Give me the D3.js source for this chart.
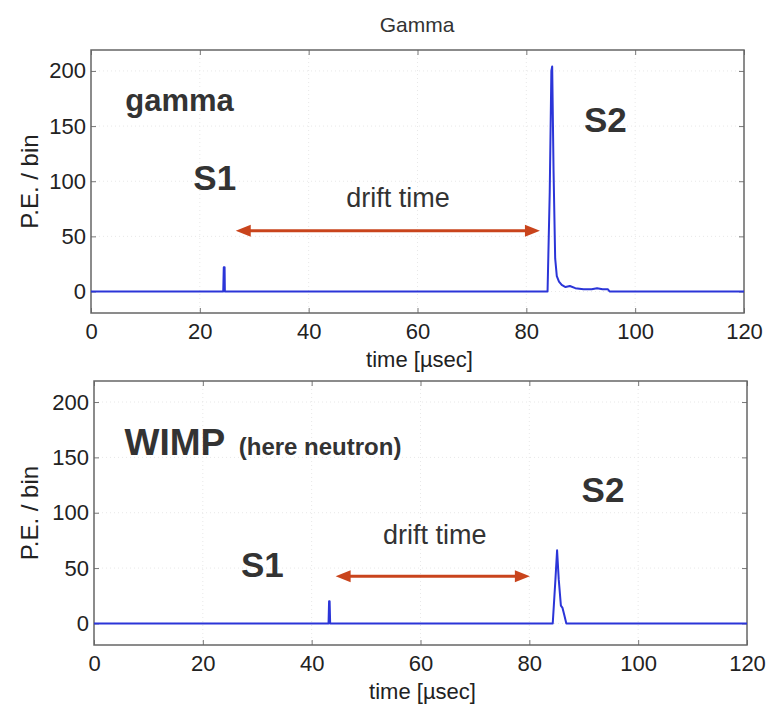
<!DOCTYPE html>
<html lang="en">
<head>
<meta charset="UTF-8">
<script src="https://cdn.jsdelivr.net/npm/d3@7/dist/d3.min.js"></script>
<title>Gamma</title>
<style>
  body { margin: 0; background: #fff; }
  text { font-family: "Liberation Sans", Arial, Helvetica, sans-serif; }
</style>
</head>
<body>
<svg width="766" height="704"></svg>
<script>
  // tick values
  const xTicks = [0, 20, 40, 60, 80, 100, 120];
  const yTicks = [0, 50, 100, 150, 200];

  // gamma event: time (usec) and P.E./bin
  const gammaTime  = [0, 24.3, 24.4, 24.55, 24.6, 83.9, 84.3, 84.6, 84.75, 85.0, 85.3, 85.6, 86.0, 86.5, 87.2, 88.0, 89.0, 90.5, 92.0, 93.0, 94.0, 95.0, 95.3, 120];
  const gammaValue = [0, 0, 22, 22, 0, 0, 90, 200, 204, 110, 30, 14, 9, 6, 4, 5, 3, 2, 2, 3, 2, 2, 0, 0];

  // neutron (WIMP) event
  const wimpTime  = [0, 43.1, 43.2, 43.3, 43.4, 84.3, 84.8, 85.1, 85.4, 85.8, 86.1, 86.4, 86.8, 120];
  const wimpValue = [0, 0, 20, 20, 0, 0, 40, 66, 40, 16, 14, 8, 0, 0];

  const svg = d3.select('svg');
  const lineColor = '#2b35d8';
  const arrowColor = '#c9441c';
  const textColor = '#333';

  // draw one panel
  function panel(cfg) {
    const x = d3.scaleLinear().domain([0, 120]).range([cfg.left, cfg.right]);
    const y = d3.scaleLinear().domain([-19.5, 219]).range([cfg.bottom, cfg.top]);
    const g = svg.append('g');

    // faint dotted grid
    g.append('g').selectAll('line.gx')
      .data(xTicks.slice(1, -1)).enter().append('line')
      .attr('x1', d => x(d)).attr('x2', d => x(d))
      .attr('y1', cfg.top).attr('y2', cfg.bottom)
      .attr('stroke', '#e8e8e8').attr('stroke-dasharray', '1,3');
    g.append('g').selectAll('line.gy')
      .data(yTicks).enter().append('line')
      .attr('x1', cfg.left).attr('x2', cfg.right)
      .attr('y1', d => y(d)).attr('y2', d => y(d))
      .attr('stroke', '#e8e8e8').attr('stroke-dasharray', '1,3');

    // axes with inward ticks
    const ax = g.append('g').attr('transform', `translate(0,${cfg.bottom})`)
      .call(d3.axisBottom(x).tickValues(xTicks).tickSizeInner(-5).tickSizeOuter(0).tickPadding(10));
    const ay = g.append('g').attr('transform', `translate(${cfg.left},0)`)
      .call(d3.axisLeft(y).tickValues(yTicks).tickSizeInner(-5).tickSizeOuter(0).tickPadding(5));
    g.append('g').attr('transform', `translate(0,${cfg.top})`)
      .call(d3.axisTop(x).tickValues(xTicks).tickSizeInner(-5).tickSizeOuter(0).tickFormat(''));
    g.append('g').attr('transform', `translate(${cfg.right},0)`)
      .call(d3.axisRight(y).tickValues(yTicks).tickSizeInner(-5).tickSizeOuter(0).tickFormat(''));
    g.selectAll('.domain').remove();
    g.selectAll('.tick line').attr('stroke', '#777');
    ax.selectAll('text').attr('font-size', 22).attr('fill', '#222')
      .attr('font-family', '"Liberation Sans", Arial, sans-serif');
    ay.selectAll('text').attr('font-size', 22).attr('fill', '#222')
      .attr('font-family', '"Liberation Sans", Arial, sans-serif');

    // box
    g.append('rect')
      .attr('x', cfg.left).attr('y', cfg.top)
      .attr('width', cfg.right - cfg.left).attr('height', cfg.bottom - cfg.top)
      .attr('fill', 'none').attr('stroke', '#666').attr('stroke-width', 1.5);

    // signal trace
    const line = d3.line().x(d => x(d[0])).y(d => y(d[1]));
    g.append('path')
      .attr('d', line(d3.zip(cfg.time, cfg.value)))
      .attr('fill', 'none').attr('stroke', lineColor)
      .attr('stroke-width', 2).attr('stroke-linejoin', 'round');

    // axis labels
    g.append('text')
      .attr('x', (cfg.left + cfg.right) / 2 + 2).attr('y', cfg.bottom + 54)
      .attr('text-anchor', 'middle').attr('font-size', 22).attr('fill', '#222')
      .text('time [µsec]');
    g.append('text')
      .attr('transform', `translate(38,${(cfg.top + cfg.bottom) / 2}) rotate(-90)`)
      .attr('text-anchor', 'middle').attr('font-size', 24).attr('fill', '#222')
      .text('P.E. / bin');

    // double arrow for the drift time
    const a = cfg.arrow;
    const ya = y(a.y), x1 = x(a.from), x2 = x(a.to);
    g.append('line')
      .attr('x1', x1 + 10).attr('x2', x2 - 10).attr('y1', ya).attr('y2', ya)
      .attr('stroke', arrowColor).attr('stroke-width', 3);
    g.append('path')
      .attr('d', `M${x1},${ya}L${x1 + 15},${ya - 6}L${x1 + 15},${ya + 6}Z`)
      .attr('fill', arrowColor);
    g.append('path')
      .attr('d', `M${x2},${ya}L${x2 - 15},${ya - 6}L${x2 - 15},${ya + 6}Z`)
      .attr('fill', arrowColor);

    // annotations
    cfg.notes.forEach(n => {
      g.append('text')
        .attr('x', x(n.t)).attr('y', y(n.v))
        .attr('text-anchor', n.anchor || 'start')
        .attr('font-size', n.size).attr('font-weight', n.bold ? 'bold' : 'normal')
        .attr('fill', textColor)
        .text(n.text);
    });
    return g;
  }

  // title
  svg.append('text')
    .attr('x', 417).attr('y', 32)
    .attr('text-anchor', 'middle').attr('font-size', 21).attr('fill', '#333')
    .text('Gamma');

  panel({
    left: 91, right: 744, top: 50, bottom: 313,
    time: gammaTime, value: gammaValue,
    arrow: { from: 26.6, to: 82.5, y: 55 },
    notes: [
      { text: 'gamma', t: 6.3, v: 164, size: 31, bold: true },
      { text: 'S2', t: 90.6, v: 145, size: 35, bold: true },
      { text: 'S1', t: 18.8, v: 92, size: 35, bold: true },
      { text: 'drift time', t: 56.4, v: 77, size: 27, anchor: 'middle' }
    ]
  });

  panel({
    left: 94, right: 747, top: 381, bottom: 645,
    time: wimpTime, value: wimpValue,
    arrow: { from: 44.4, to: 80.1, y: 42.5 },
    notes: [
      { text: 'WIMP', t: 5.6, v: 152, size: 37, bold: true },
      { text: '(here neutron)', t: 26.6, v: 152, size: 24, bold: true },
      { text: 'S2', t: 89.6, v: 110, size: 35, bold: true },
      { text: 'S1', t: 27.0, v: 42, size: 35, bold: true },
      { text: 'drift time', t: 62.6, v: 72, size: 27, anchor: 'middle' }
    ]
  });
</script>
</body>
</html>
